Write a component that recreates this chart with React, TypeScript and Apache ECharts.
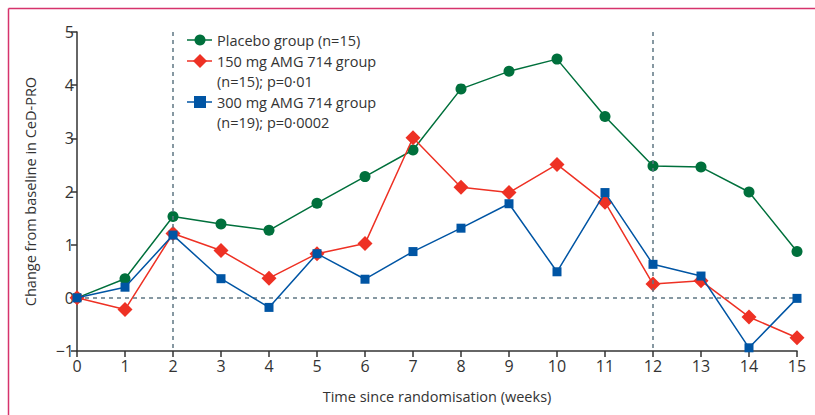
import React, { useEffect, useRef } from "react";
import * as echarts from "echarts";

const weeks = ["0","1","2","3","4","5","6","7","8","9","10","11","12","13","14","15"];
const placebo = [0, 0.36, 1.53, 1.39, 1.27, 1.78, 2.28, 2.78, 3.93, 4.26, 4.49, 3.41, 2.48, 2.46, 1.99, 0.87];
const amg150 = [0, -0.22, 1.21, 0.89, 0.37, 0.83, 1.02, 3.01, 2.08, 1.98, 2.51, 1.8, 0.26, 0.32, -0.36, -0.75];
const amg300 = [0, 0.2, 1.18, 0.36, -0.18, 0.83, 0.35, 0.87, 1.31, 1.77, 0.49, 1.98, 0.63, 0.41, -0.94, -0.01];
const refWeeks = ["2", "12"];

const GREEN = "#00703c";
const RED = "#ee3124";
const BLUE = "#0055a4";
const GRID = "#5f7784";
const TXT = "#333333";
const FONT = "'Open Sans', 'Noto Sans', sans-serif";

export default function App() {
  const ref = useRef<HTMLDivElement>(null);
  useEffect(() => {
    const chart = echarts.init(ref.current!, null, { renderer: "svg" });
    const legendRows = [
      { y: 40, color: GREEN, symbol: "circle", lines: ["Placebo group (n=15)"] },
      { y: 61, color: RED, symbol: "diamond", lines: ["150 mg AMG 714 group", "(n=15); p=0·01"] },
      { y: 102, color: BLUE, symbol: "rect", lines: ["300 mg AMG 714 group", "(n=19); p=0·0002"] },
    ];
    const graphic: any[] = [
      { type: "line", shape: { x1: 8.5, y1: 8.5, x2: 815, y2: 8.5 }, style: { stroke: "#d6336c", lineWidth: 1.5 } },
      { type: "line", shape: { x1: 8.5, y1: 8.5, x2: 8.5, y2: 415 }, style: { stroke: "#d6336c", lineWidth: 1.5 } },
    ];
    legendRows.forEach((r) => {
      graphic.push({ type: "line", shape: { x1: 187, y1: r.y, x2: 212, y2: r.y }, style: { stroke: r.color, lineWidth: 1.5 }, z: 10 });
      if (r.symbol === "circle") {
        graphic.push({ type: "circle", shape: { cx: 200, cy: r.y, r: 5.5 }, style: { fill: r.color }, z: 11 });
      } else if (r.symbol === "diamond") {
        graphic.push({ type: "polygon", shape: { points: [[200, r.y - 7], [207, r.y], [200, r.y + 7], [193, r.y]] }, style: { fill: r.color }, z: 11 });
      } else {
        graphic.push({ type: "rect", shape: { x: 194, y: r.y - 6, width: 12, height: 12 }, style: { fill: r.color }, z: 11 });
      }
      r.lines.forEach((t, i) => {
        graphic.push({
          type: "text", x: 217, y: r.y + i * 20.5, z: 11,
          style: { text: t, fill: TXT, font: `14.5px ${FONT}`, verticalAlign: "middle", align: "left" },
        });
      });
    });

    const refLine = (week: string) => ({
      type: "line", data: [], silent: true,
      markLine: {
        symbol: "none", silent: true, animation: false, label: { show: false },
        lineStyle: { color: GRID, type: [4, 4], width: 1.5 },
        data: [[{ coord: [week, 5] }, { coord: [week, -1] }]],
      },
    });

    chart.setOption({
      animation: false,
      grid: { left: 77, right: 18, top: 32, bottom: 64 },
      graphic,
      xAxis: {
        type: "category", data: weeks, boundaryGap: false,
        name: "Time since randomisation (weeks)", nameLocation: "middle", nameGap: 38,
        nameTextStyle: { color: TXT, fontSize: 14.5, fontFamily: FONT },
        axisLine: { onZero: false, lineStyle: { color: "#333", width: 1.5 } },
        axisTick: { show: true, alignWithLabel: true, length: 6, lineStyle: { color: "#333", width: 1.5 } },
        axisLabel: { color: TXT, fontSize: 16, fontFamily: FONT, margin: 7 },
        splitLine: { show: false },
      },
      yAxis: {
        type: "value", min: -1, max: 5, interval: 1,
        name: "Change from baseline in CeD-PRO", nameLocation: "middle", nameGap: 39,
        nameTextStyle: { color: TXT, fontSize: 14.5, fontFamily: FONT },
        axisLine: { show: true, lineStyle: { color: "#333", width: 1.5 } },
        axisTick: { show: true, length: 6, lineStyle: { color: "#333", width: 1.5 } },
        axisLabel: { color: TXT, fontSize: 16, fontFamily: FONT, margin: 3,
          formatter: (v: number) => (v < 0 ? "\u2212" + Math.abs(v) : String(v)) },
        splitLine: { show: false },
      },
      series: [
        {
          type: "line", data: [], silent: true,
          markLine: {
            symbol: "none", silent: true, label: { show: false },
            lineStyle: { color: GRID, type: [4, 4], width: 1.5 },
            data: [{ yAxis: 0 }],
          },
        },
        refLine(refWeeks[0]),
        refLine(refWeeks[1]),
        {
          name: "Placebo", type: "line", data: placebo, symbol: "circle", symbolSize: 11,
          itemStyle: { color: GREEN }, lineStyle: { color: GREEN, width: 1.5 }, z: 3,
        },
        {
          name: "150", type: "line", data: amg150, symbol: "diamond", symbolSize: 15,
          itemStyle: { color: RED }, lineStyle: { color: RED, width: 1.5 }, z: 4,
        },
        {
          name: "300", type: "line", data: amg300, symbol: "rect", symbolSize: 9,
          itemStyle: { color: BLUE }, lineStyle: { color: BLUE, width: 1.5 }, z: 5,
        },
      ],
    });
    return () => chart.dispose();
  }, []);
  return <div ref={ref} style={{ position: "fixed", left: 0, top: 0, width: 815, height: 415, background: "#fff" }} />;
}
